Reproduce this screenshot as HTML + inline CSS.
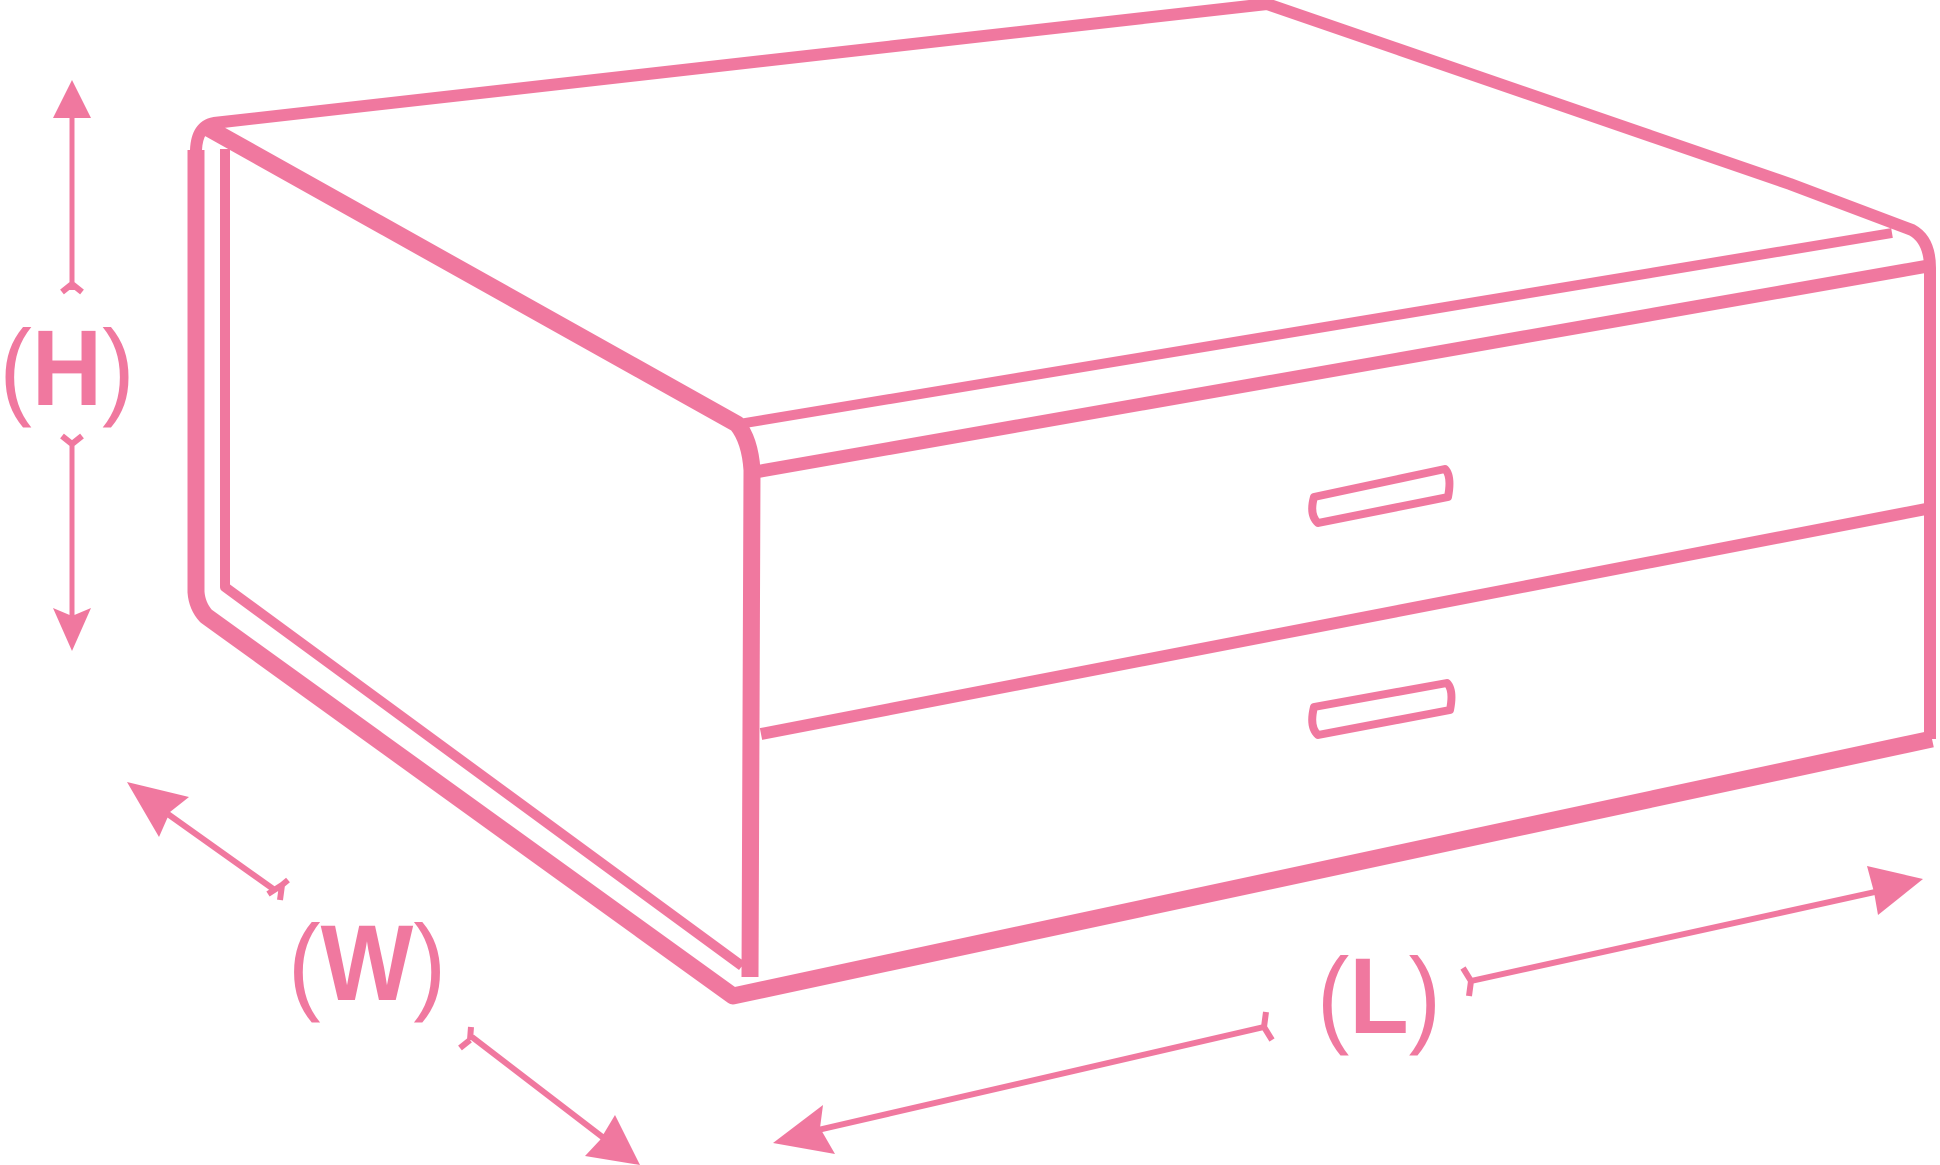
<!DOCTYPE html>
<html><head><meta charset="utf-8"><style>
html,body{margin:0;padding:0;background:#fff;width:1940px;height:1165px;overflow:hidden}
svg{display:block}
text{font-family:"Liberation Sans",sans-serif;fill:#F0789F}
</style></head><body>
<svg width="1940" height="1165" viewBox="0 0 1940 1165" xmlns="http://www.w3.org/2000/svg">
<g fill="none" stroke="#F0789F" stroke-linejoin="round" stroke-linecap="butt">
<path d="M196,600 L196,150 Q197,126 214,123 L1267,4 L1790,184 L1912,230 Q1930,240 1930,268 L1930,739" stroke-width="12"/>
<path d="M196,150 L196,592 Q197,606 206,616 L733,996 L1932,739" stroke-width="17"/>
<path d="M208,128 L737,424 Q750,440 752,470 L750,977" stroke-width="17"/>
<path d="M225,149 L225,587 L742,966" stroke-width="10"/>
<path d="M739,424 L1892,233" stroke-width="10"/>
<path d="M755,472 L1928,266" stroke-width="13"/>
<path d="M761,734 L1926,509" stroke-width="12"/>
<path d="M1314,497 L1445,469 Q1452,476 1448,497 L1318,523 Q1309,515 1314,497 Z" stroke-width="8"/>
<path d="M1314,707 L1447,683 Q1454,690 1450,710 L1318,735 Q1309,727 1314,707 Z" stroke-width="8"/>
<path d="M72,110 L72,290 M72,440 L72,620" stroke-width="5"/>
<path d="M62,292 L72,284 L82,292 M62,436 L72,444 L82,436" stroke-width="6"/>
<path d="M165,812 L276,891 M288,880 L282,885 L280,900 M282,885 L268,894" stroke-width="6"/>
<path d="M472,1037 L605,1139 M470,1040 L460,1048 M470,1040 L471,1027" stroke-width="6"/>
<path d="M818,1130 L1264,1027 M1264,1027 L1272,1040 M1264,1027 L1266,1012" stroke-width="6"/>
<path d="M1471,981 L1875,892 M1471,981 L1463,968 M1471,981 L1469,996" stroke-width="6"/>
</g>
<g fill="#F0789F">
<polygon points="72,80 53,118 91,118"/>
<polygon points="72,651 53,608 72,616 91,608"/>
<polygon points="127,782 189,797 170,812 159,837"/>
<polygon points="640,1165 585,1156 600,1140 615,1115"/>
<polygon points="773,1143 823,1105 820,1128 835,1154"/>
<polygon points="1923,879 1867,866 1874,892 1878,915"/>
</g>
<text x="67" y="405" font-size="108" text-anchor="middle" textLength="135" lengthAdjust="spacingAndGlyphs">(<tspan font-weight="bold">H</tspan>)</text>
<text x="367" y="1000" font-size="108" text-anchor="middle" textLength="158" lengthAdjust="spacingAndGlyphs">(<tspan font-weight="bold">W</tspan>)</text>
<text x="1379" y="1033" font-size="108" text-anchor="middle" textLength="124" lengthAdjust="spacingAndGlyphs">(<tspan font-weight="bold">L</tspan>)</text>
</svg>
</body></html>
